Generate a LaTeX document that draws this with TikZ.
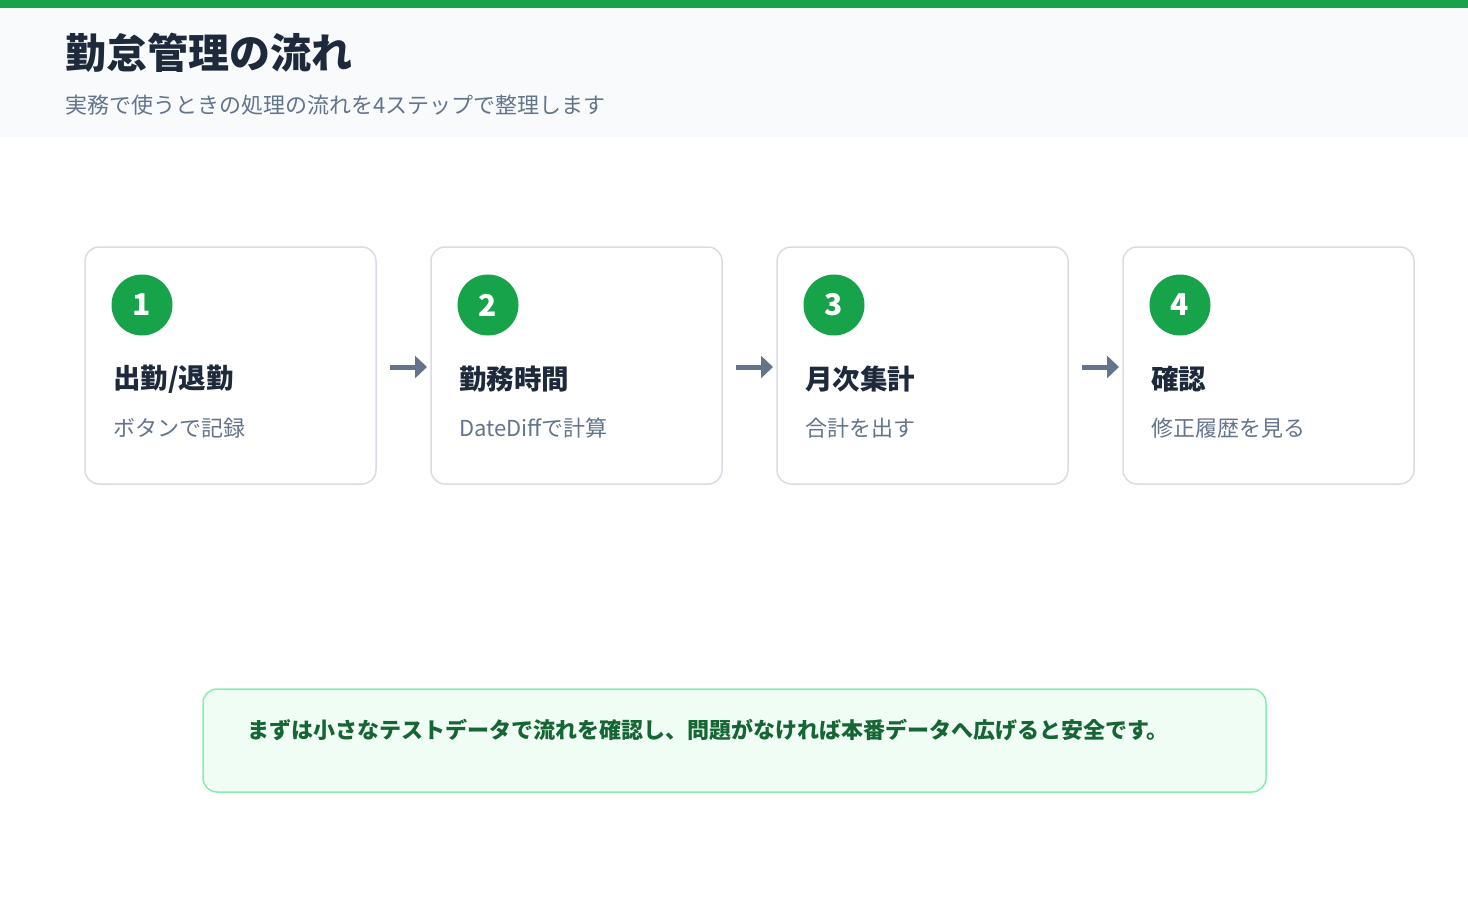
\documentclass[tikz,border=0pt]{standalone}
\usepackage{fontspec}
\setmainfont{Noto Sans CJK JP}
\usetikzlibrary{arrows.meta}
\definecolor{grn}{HTML}{16A34A}
\definecolor{navy}{HTML}{1E293B}
\definecolor{gry}{HTML}{64748B}
\definecolor{bord}{HTML}{D9DCE6}
\definecolor{hdr}{HTML}{F8FAFC}
\definecolor{notebd}{HTML}{86EFAC}
\definecolor{notebg}{HTML}{F0FDF4}
\definecolor{notetx}{HTML}{166534}
\tikzset{
 card/.style={draw=bord,line width=1.5pt,rounded corners=14pt,fill=white},
 num/.style={circle,fill=grn,minimum size=61pt,inner sep=0,text=white,font=\fontsize{30}{32}\selectfont\bfseries},
 ttl/.style={anchor=west,inner sep=0,text=navy,font=\fontsize{27.5}{30}\selectfont\bfseries},
 sub/.style={anchor=west,inner sep=0,text=gry,font=\fontsize{22}{26}\selectfont},
 arr/.style={draw=gry,line width=5pt,-{Triangle[length=12pt,width=22pt]}}
}
\begin{document}
\begin{tikzpicture}[x=1pt,y=-1pt]
\useasboundingbox (0,0) rectangle (1468,900);
\fill[white] (0,0) rectangle (1468,900);
\fill[hdr] (0,8) rectangle (1468,137);
\fill[grn] (0,0) rectangle (1468,8);
\node[anchor=west,inner sep=0,text=navy,font=\fontsize{41}{44}\selectfont\bfseries] (title) at (65,53) {勤怠管理の流れ};
\node[sub,font=\fontsize{22}{26}\selectfont] (subt) at (65,105) {実務で使うときの処理の流れを4ステップで整理します};
\foreach \i/\x/\t/\s in {1/85/{出勤/退勤}/ボタンで記録,2/431/勤務時間/DateDiffで計算,3/777/月次集計/合計を出す,4/1123/確認/修正履歴を見る}{
 \draw[card] (\x,247) rectangle ++(291,237);
 \node[num] (n\i) at (\x+57,305) {\i};
 \node[ttl] (t\i) at (\x+28,379) {\t};
 \node[sub] (s\i) at (\x+28,428) {\s};
}
\coordinate (p1) at (390,367); \coordinate (q1) at (427,367);
\coordinate (p2) at (736,367); \coordinate (q2) at (773,367);
\coordinate (p3) at (1082,367); \coordinate (q3) at (1119,367);
\foreach \i in {1,2,3}{\draw[arr] (p\i) -- (q\i);}
\draw[draw=notebd,fill=notebg,line width=1.5pt,rounded corners=14pt] (203,689) rectangle (1266,792);
\node[anchor=west,inner sep=0,text=notetx,font=\fontsize{22}{24}\selectfont\bfseries] (note) at (247,730) {まずは小さなテストデータで流れを確認し、問題がなければ本番データへ広げると安全です。};
\end{tikzpicture}
\end{document}
